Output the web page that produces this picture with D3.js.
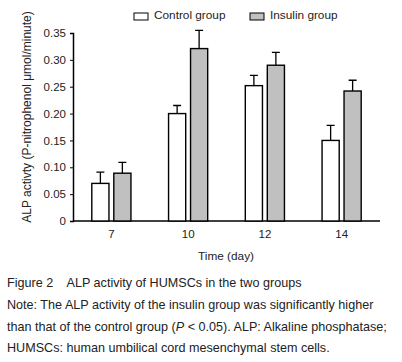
<!doctype html>
<html lang="en">
<head>
    <meta charset="utf-8">
    <title>ALP activity</title>
    <script src="https://d3js.org/d3.v7.min.js"></script>
    <style>
        body { margin: 0; background: #fff; }
        svg text { font-family: "Liberation Sans", Arial, sans-serif; fill: #222; }
    </style>
</head>
<body>
<script>
    // Data
    const days        = ["7", "10", "12", "14"];
    const groups      = ["Control group", "Insulin group"];
    const controlMean = [0.070, 0.200, 0.252, 0.150];
    const controlErr  = [0.021, 0.015, 0.019, 0.028];
    const insulinMean = [0.089, 0.321, 0.290, 0.242];
    const insulinErr  = [0.020, 0.034, 0.024, 0.020];
    const yTicks      = [0, 0.05, 0.10, 0.15, 0.20, 0.25, 0.30, 0.35];
    const captionLines = [
        "Note: The ALP activity of the insulin group was significantly higher",
        "than that of the control group (",
        "HUMSCs: human umbilical cord mesenchymal stem cells."
    ];

    const fills = ["#ffffff", "#c0c0c0"];

    // Dimensions
    const width = 402, height = 362;
    const xLeft = 73, xRight = 380, yTop = 33, yBottom = 221;

    const svg = d3.select("body").append("svg")
        .attr("width", width)
        .attr("height", height);

    // Scales
    const x = d3.scaleBand().domain(days).range([xLeft, xRight]).padding(0.49).paddingOuter(0.245);
    const xSub = d3.scaleBand().domain(groups).range([0, x.bandwidth()]).paddingInner(0.22);
    const y = d3.scaleLinear().domain([0, 0.35]).range([yBottom, yTop]);

    // Build table
    const rows = days.map((d, i) => ({
        day: d,
        vals: [
            { g: groups[0], m: controlMean[i], e: controlErr[i] },
            { g: groups[1], m: insulinMean[i], e: insulinErr[i] }
        ]
    }));

    // Y axis
    const yAxis = svg.append("g")
        .attr("transform", `translate(${xLeft},0)`)
        .call(d3.axisLeft(y).tickValues(yTicks).tickSize(3).tickPadding(4)
            .tickFormat(d => d === 0 ? "0" : d3.format(".2f")(d)));
    yAxis.select(".domain").attr("stroke", "#000").attr("stroke-width", 1.5);
    yAxis.selectAll("line").attr("stroke", "#000");
    yAxis.selectAll("text").style("font-size", "11.5px").attr("fill", "#222");

    // X axis
    const xAxis = svg.append("g")
        .attr("transform", `translate(0,${yBottom})`)
        .call(d3.axisBottom(x).tickSize(0).tickPadding(9).tickSizeOuter(0));
    xAxis.select(".domain").attr("stroke", "#000").attr("stroke-width", 1.5)
        .attr("d", `M${xLeft},0H${xRight}`);
    xAxis.selectAll("text").style("font-size", "11.5px").attr("fill", "#222");

    // Bars
    const grp = svg.selectAll(".grp").data(rows).enter().append("g")
        .attr("transform", d => `translate(${x(d.day)},0)`);

    grp.selectAll("rect").data(d => d.vals).enter().append("rect")
        .attr("x", d => xSub(d.g))
        .attr("y", d => y(d.m))
        .attr("width", xSub.bandwidth())
        .attr("height", d => y(0) - y(d.m))
        .attr("fill", (d, i) => fills[i])
        .attr("stroke", "#000")
        .attr("stroke-width", 1.4);

    // Error bars
    grp.selectAll(".err").data(d => d.vals).enter().append("path")
        .attr("fill", "none")
        .attr("stroke", "#000")
        .attr("stroke-width", 1.3)
        .attr("d", d => {
            const cx = xSub(d.g) + xSub.bandwidth() / 2;
            return `M${cx},${y(d.m)}V${y(d.m + d.e)}M${cx - 4},${y(d.m + d.e)}H${cx + 4}`;
        });

    // Legend
    const legX = [134, 250];
    groups.forEach((g, i) => {
        svg.append("rect")
            .attr("x", legX[i]).attr("y", 13)
            .attr("width", 14).attr("height", 7)
            .attr("fill", fills[i]).attr("stroke", "#000").attr("stroke-width", 1);
        svg.append("text")
            .attr("x", legX[i] + 20).attr("y", 19)
            .style("font-size", "11.8px")
            .text(g);
    });

    // Axis titles
    svg.append("text")
        .attr("transform", `translate(31,117) rotate(-90)`)
        .attr("text-anchor", "middle")
        .style("font-size", "12px")
        .text("ALP activty (P-nitrophenol \u03bcmol/minute)");

    svg.append("text")
        .attr("x", 226).attr("y", 260)
        .attr("text-anchor", "middle")
        .style("font-size", "11.8px")
        .text("Time (day)");

    // Caption
    const cap = svg.append("g").style("font-size", "12.6px");
    cap.append("text").attr("x", 7).attr("y", 287)
        .attr("xml:space", "preserve")
        .text("Figure 2    ALP activity of HUMSCs in the two groups");
    cap.append("text").attr("x", 7).attr("y", 309).text(captionLines[0]);
    const l3 = cap.append("text").attr("x", 7).attr("y", 331);
    l3.append("tspan").text(captionLines[1]);
    l3.append("tspan").style("font-style", "italic").text("P");
    l3.append("tspan").text(" < 0.05). ALP: Alkaline phosphatase;");
    cap.append("text").attr("x", 7).attr("y", 352).text(captionLines[2]);
</script>
</body>
</html>
